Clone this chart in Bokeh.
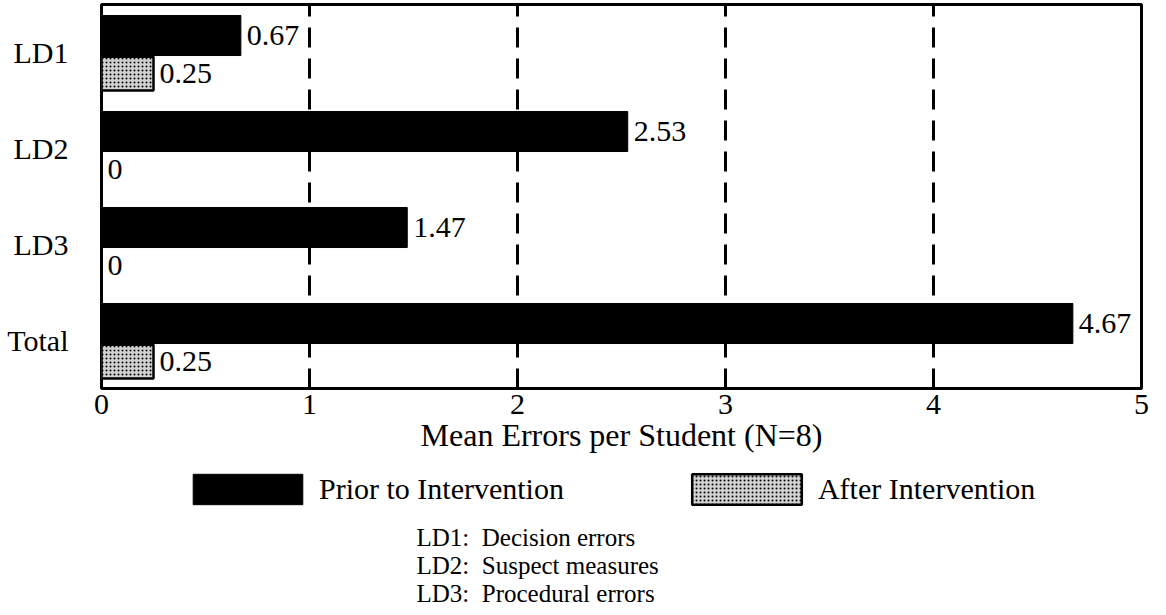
from bokeh.plotting import figure
from bokeh.models import ColumnDataSource, Range1d, FixedTicker, Legend, LegendItem, Label
from bokeh.layouts import column
from bokeh.transform import dodge
from bokeh.embed import file_html
from bokeh.resources import INLINE
from bokeh.core.properties import value

# ---- data ----
categories = ["LD1", "LD2", "LD3", "Total"]
prior = [0.67, 2.53, 1.47, 4.67]
after = [0.25, 0, 0, 0.25]
prior_labels = ["0.67", "2.53", "1.47", "4.67"]
after_labels = ["0.25", "0", "0", "0.25"]
x_ticks = [0, 1, 2, 3, 4, 5]
x_title = "Mean Errors per Student (N=8)"
series_names = ["Prior to Intervention", "After Intervention"]
notes = ["LD1:\u00a0 Decision errors", "LD2:\u00a0 Suspect measures", "LD3:\u00a0 Procedural errors"]

FONT = "Liberation Serif"
n = len(categories)
ypos = [n - i - 0.5 for i in range(n)]

PRIOR_STYLE = dict(fill_color="black", line_color="black")
AFTER_STYLE = dict(fill_color="#d2d2d2", hatch_pattern="dot", hatch_scale=4,
                   hatch_color="black", hatch_weight=1.5,
                   line_color="black", line_width=2.5)

src = ColumnDataSource(dict(y=ypos, prior=prior, after=after,
                            pl=prior_labels, al=after_labels))

# ---------------- main chart ----------------
p = figure(frame_width=1040, frame_height=384, x_range=Range1d(0, 5), y_range=Range1d(0, n),
           output_backend="svg", toolbar_location=None,
           min_border_left=101, min_border_right=9, min_border_top=4,
           min_border_bottom=70)
p.background_fill_color = "white"
p.border_fill_color = "white"
p.outline_line_color = "black"
p.outline_line_width = 3
p.outline_line_alpha = 1

P_OFF, P_H = 0.177, 0.417
A_OFF, A_H = -0.22, 0.354

p.hbar(y=dodge("y", P_OFF, range=p.y_range), left=0, right="prior",
       height=P_H, source=src, **PRIOR_STYLE)
p.hbar(y=dodge("y", A_OFF, range=p.y_range), left=0, right="after",
       height=A_H, source=src, **AFTER_STYLE)

p.text(x="prior", y=dodge("y", P_OFF, range=p.y_range), text="pl", source=src,
       x_offset=6, text_baseline="middle", text_align="left",
       text_font=value(FONT), text_font_size="30px", text_color="black")
p.text(x="after", y=dodge("y", A_OFF, range=p.y_range), text="al", source=src,
       x_offset=6, text_baseline="middle", text_align="left",
       text_font=value(FONT), text_font_size="30px", text_color="black")

p.xaxis.ticker = FixedTicker(ticks=x_ticks)
p.xaxis.axis_label = x_title
p.xaxis.axis_label_text_font = FONT
p.xaxis.axis_label_text_font_size = "32px"
p.xaxis.axis_label_text_font_style = "normal"
p.xaxis.axis_label_standoff = 0
p.xaxis.major_label_text_font = FONT
p.xaxis.major_label_text_font_size = "30px"
p.xaxis.major_label_standoff = 6

p.yaxis.ticker = FixedTicker(ticks=ypos)
p.yaxis.major_label_overrides = {y: c for y, c in zip(ypos, categories)}
p.yaxis.major_label_text_font = FONT
p.yaxis.major_label_text_font_size = "30px"
p.yaxis.major_label_standoff = 33

for ax in (p.xaxis, p.yaxis):
    ax.axis_line_color = None
    ax.major_tick_line_color = None
    ax.minor_tick_line_color = None
    ax.major_tick_out = 0
    ax.major_tick_in = 0
    ax.major_label_text_color = "black"
    ax.axis_label_text_color = "black"

p.ygrid.visible = False
p.xgrid.grid_line_color = "black"
p.xgrid.grid_line_width = 3
p.xgrid.grid_line_dash = "20 11"

# ---------------- legend + notes strip (frame aligned with chart frame) ----------------
LH = 148
q = figure(width=1150, height=LH, x_range=Range1d(0, 1040), y_range=Range1d(LH, 0),
           output_backend="svg", toolbar_location=None,
           min_border=0, min_border_left=101, min_border_right=9,
           outline_line_color=None)
q.axis.visible = False
q.grid.visible = False
q.background_fill_color = "white"
q.border_fill_color = "white"

# legend swatches take the bar styles; these renderers are hidden (only the legend shows)
lr_prior = q.hbar(y="y", right="prior", left=0, height=P_H, source=src,
                  visible=False, **PRIOR_STYLE)
lr_after = q.hbar(y="y", right="after", left=0, height=A_H, source=src,
                  visible=False, **AFTER_STYLE)

legend = Legend(items=[LegendItem(label=series_names[0], renderers=[lr_prior]),
                       LegendItem(label=series_names[1], renderers=[lr_after])],
                orientation="horizontal", location=(78, 98),
                glyph_width=137, glyph_height=38, label_standoff=3, spacing=114,
                label_text_font=FONT, label_text_font_size="30px",
                label_text_color="black",
                inactive_fill_alpha=0,
                border_line_color=None, background_fill_alpha=0,
                margin=0, padding=0)
q.add_layout(legend)

for i, t in enumerate(notes):
    q.add_layout(Label(x=315, y=79 + 28 * i, text=t, text_baseline="middle",
                       text_font=FONT, text_font_size="25px", text_color="black"))

layout = column(p, q, spacing=0)
open("out.html", "w").write(file_html(layout, INLINE))
